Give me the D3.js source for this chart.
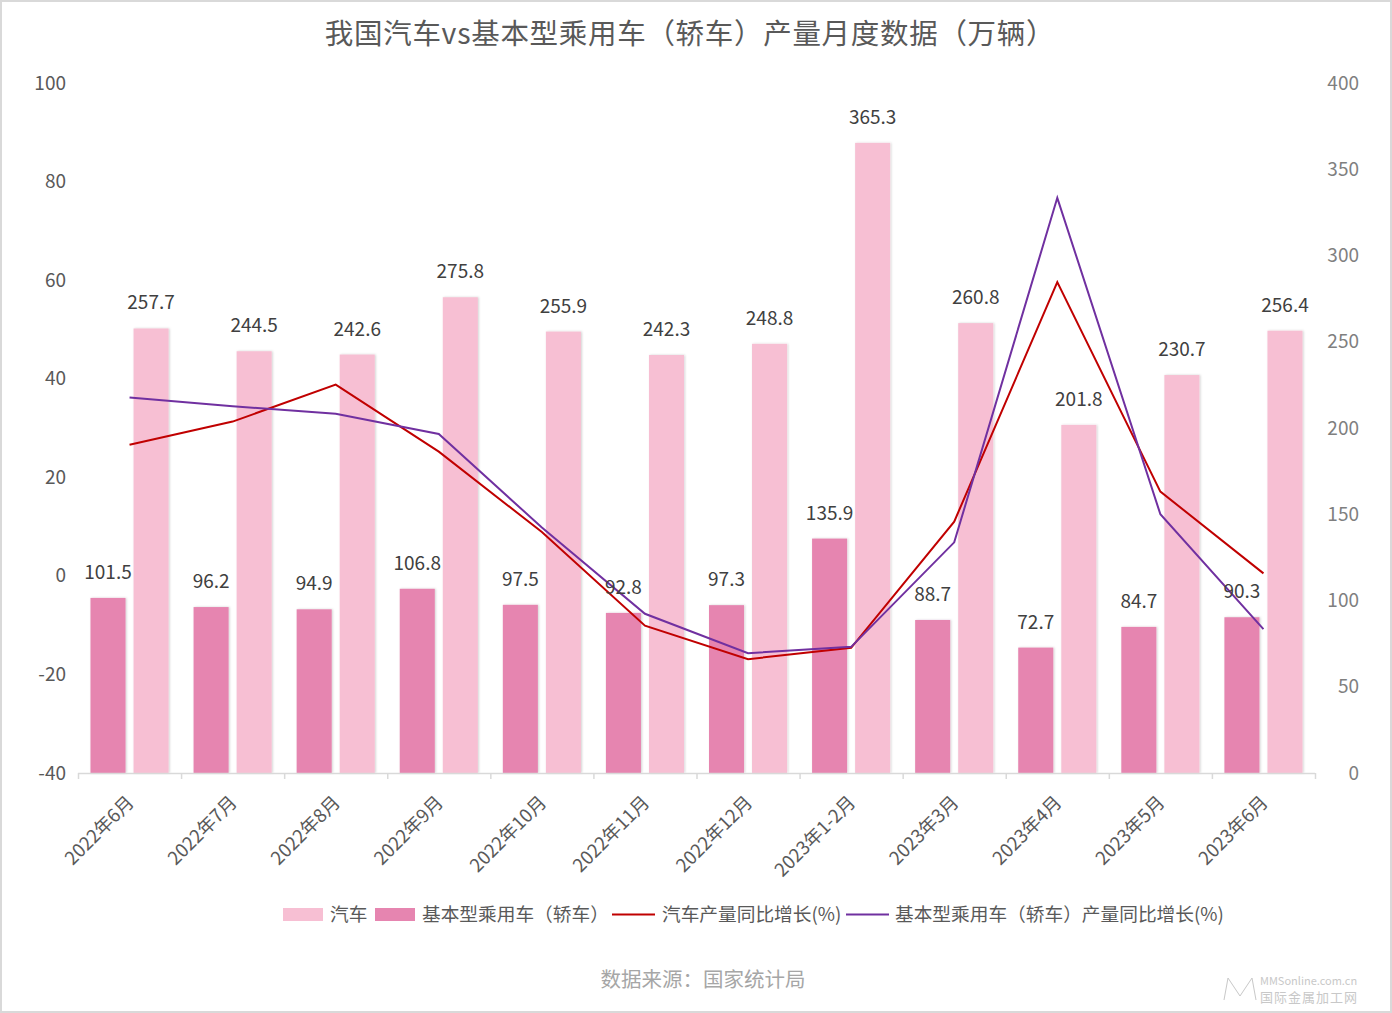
<!DOCTYPE html>
<html>
<head>
<meta charset="utf-8">
<script src="https://cdn.jsdelivr.net/npm/d3@7"></script>
<style>
  html, body { margin: 0; padding: 0; background: #fff; }
  svg { display: block; }
  text { font-family: "Noto Sans CJK SC", "Microsoft YaHei", sans-serif; }
</style>
</head>
<body>
<svg id="chart" width="1392" height="1013"></svg>
<script>
// ---- data ----
const categories = ["2022年6月","2022年7月","2022年8月","2022年9月","2022年10月","2022年11月","2022年12月","2023年1-2月","2023年3月","2023年4月","2023年5月","2023年6月"];
const autoOutput = [257.7, 244.5, 242.6, 275.8, 255.9, 242.3, 248.8, 365.3, 260.8, 201.8, 230.7, 256.4];
const sedanOutput = [101.5, 96.2, 94.9, 106.8, 97.5, 92.8, 97.3, 135.9, 88.7, 72.7, 84.7, 90.3];
const autoGrowth = [26.6, 31.3, 38.8, 25.2, 8.9, -10.1, -16.9, -14.6, 11.0, 59.6, 17.1, 0.5];
const sedanGrowth = [36.2, 34.4, 32.9, 28.8, 9.8, -7.7, -15.7, -14.4, 6.8, 76.7, 12.5, -10.8];
const leftTicks = [-40, -20, 0, 20, 40, 60, 80, 100];
const rightTicks = [0, 50, 100, 150, 200, 250, 300, 350, 400];
const seriesNames = ["汽车", "基本型乘用车（轿车）", "汽车产量同比增长(%)", "基本型乘用车（轿车）产量同比增长(%)"];
const titleText = "我国汽车vs基本型乘用车（轿车）产量月度数据（万辆）";
const sourceText = "数据来源：国家统计局";

// ---- styles ----
const C = { auto: "#f7bfd3", sedan: "#e685b0", red: "#c00000", purple: "#7030a0", axis: "#d9d9d9", txt: "#595959", lbl: "#404040" };

const svg = d3.select("#chart");
const W = 1392, H = 1013;
const plot = { left: 78, right: 1315, top: 83, bottom: 773 };

// border
svg.append("rect").attr("x", 1).attr("y", 1).attr("width", W - 2).attr("height", H - 2)
  .attr("fill", "#fff").attr("stroke", "#d9d9d9").attr("stroke-width", 2);

// filter for bar shadow
const defs = svg.append("defs");
const f = defs.append("filter").attr("id", "sh").attr("x", "-20%").attr("y", "-5%").attr("width", "140%").attr("height", "110%");
f.append("feDropShadow").attr("dx", 1).attr("dy", 0).attr("stdDeviation", 1.2).attr("flood-color", "#000").attr("flood-opacity", 0.18);

const x = d3.scaleBand().domain(categories).range([plot.left, plot.right]).paddingInner(0).paddingOuter(0);
const xs = d3.scaleBand().domain(["sedan", "auto"]).range([0, x.bandwidth()]).paddingInner(0.186).paddingOuter(0.29);
const yL = d3.scaleLinear().domain([-40, 100]).range([plot.bottom, plot.top]);
const yR = d3.scaleLinear().domain([0, 400]).range([plot.bottom, plot.top]);

// title
svg.append("text").attr("x", 690).attr("y", 44).attr("text-anchor", "middle")
  .attr("font-size", 28.5).attr("letter-spacing", 0.7).attr("fill", C.txt).text(titleText);

// left axis
const axL = svg.append("g").attr("transform", `translate(${plot.left - 12},0)`)
  .call(d3.axisLeft(yL).tickValues(leftTicks).tickSize(0).tickPadding(0).tickFormat(d => String(d)));
axL.select(".domain").remove();
axL.selectAll("text").attr("font-size", 19).attr("fill", C.txt).attr("font-family", "'Noto Sans CJK SC', sans-serif");

// right axis
const axR = svg.append("g").attr("transform", `translate(${plot.right + 44},0)`)
  .call(d3.axisLeft(yR).tickValues(rightTicks).tickSize(0).tickPadding(0).tickFormat(d => String(d)));
axR.select(".domain").remove();
axR.selectAll("text").attr("font-size", 19).attr("fill", "#7f7f7f").attr("font-family", "'Noto Sans CJK SC', sans-serif");

// bars
const groups = svg.append("g").selectAll("g").data(categories).join("g")
  .attr("transform", d => `translate(${x(d)},0)`);
groups.append("rect")
  .attr("x", xs("sedan")).attr("width", xs.bandwidth())
  .attr("y", (d, i) => yR(sedanOutput[i])).attr("height", (d, i) => yR(0) - yR(sedanOutput[i]))
  .attr("fill", C.sedan).attr("filter", "url(#sh)");
groups.append("rect")
  .attr("x", xs("auto")).attr("width", xs.bandwidth())
  .attr("y", (d, i) => yR(autoOutput[i])).attr("height", (d, i) => yR(0) - yR(autoOutput[i]))
  .attr("fill", C.auto).attr("filter", "url(#sh)");

// x axis line and ticks
const axB = svg.append("g");
axB.append("line").attr("x1", plot.left).attr("x2", plot.right).attr("y1", plot.bottom + 0.5).attr("y2", plot.bottom + 0.5)
  .attr("stroke", C.axis).attr("stroke-width", 1.5);
const bounds = categories.map(c => x(c)).concat([x(categories[categories.length - 1]) + x.bandwidth()]);
axB.selectAll("line.tk").data(bounds).join("line").attr("class", "tk")
  .attr("x1", d => d + 0.5).attr("x2", d => d + 0.5).attr("y1", plot.bottom).attr("y2", plot.bottom + 6)
  .attr("stroke", C.axis).attr("stroke-width", 1.5);
axB.selectAll("text").data(categories).join("text")
  .attr("transform", d => `translate(${x(d) + x.bandwidth() / 2 + 1},${plot.bottom + 26}) rotate(-45)`)
  .attr("text-anchor", "end").attr("dy", "0.35em")
  .attr("font-size", 18.5).attr("fill", C.txt).text(d => d);

// lines
const line = d3.line().x((d, i) => x(categories[i]) + x.bandwidth() / 2).y(d => yL(d));
svg.append("path").datum(autoGrowth).attr("d", line).attr("fill", "none").attr("stroke", C.red).attr("stroke-width", 2);
svg.append("path").datum(sedanGrowth).attr("d", line).attr("fill", "none").attr("stroke", C.purple).attr("stroke-width", 2);

// data labels
const lab = svg.append("g");
lab.selectAll("text.s").data(categories).join("text").attr("class", "s")
  .attr("x", d => x(d) + xs("sedan") + xs.bandwidth() / 2)
  .attr("y", (d, i) => yR(sedanOutput[i]) - 19)
  .attr("text-anchor", "middle").attr("font-size", 19).attr("fill", C.lbl)
  .text((d, i) => sedanOutput[i].toFixed(1));
lab.selectAll("text.a").data(categories).join("text").attr("class", "a")
  .attr("x", d => x(d) + xs("auto") + xs.bandwidth() / 2)
  .attr("y", (d, i) => yR(autoOutput[i]) - 19)
  .attr("text-anchor", "middle").attr("font-size", 19).attr("fill", C.lbl)
  .text((d, i) => autoOutput[i].toFixed(1));

// legend
const lg = svg.append("g").attr("font-size", 18.7).attr("fill", C.txt);
const ly = 914;
const items = [
  { type: "rect", color: C.auto, x: 283, tx: 330, name: seriesNames[0] },
  { type: "rect", color: C.sedan, x: 375, tx: 422, name: seriesNames[1] },
  { type: "line", color: C.red, x: 612, tx: 662, name: seriesNames[2] },
  { type: "line", color: C.purple, x: 846, tx: 895, name: seriesNames[3] }
];
items.forEach(it => {
  if (it.type === "rect") {
    lg.append("rect").attr("x", it.x).attr("y", ly - 6).attr("width", 40).attr("height", 13).attr("fill", it.color);
  } else {
    lg.append("line").attr("x1", it.x).attr("x2", it.x + 43).attr("y1", ly + 0.5).attr("y2", ly + 0.5)
      .attr("stroke", it.color).attr("stroke-width", 2);
  }
  lg.append("text").attr("x", it.tx).attr("y", ly).attr("dy", "0.35em").text(it.name);
});

// source
svg.append("text").attr("x", 703).attr("y", 980).attr("dy", "0.35em").attr("text-anchor", "middle")
  .attr("font-size", 20.5).attr("fill", "#a6a6a6").text(sourceText);

// watermark
const wm = svg.append("g").attr("fill", "none").attr("stroke", "#c8c8c8").attr("stroke-width", 1);
wm.append("path").attr("d", "M1224,1000 L1228,978 L1240,996 L1252,978 L1256,1000");
svg.append("text").attr("x", 1260).attr("y", 985).attr("font-size", 11).attr("fill", "#c8c8c8")
  .attr("font-family", "'Liberation Sans Narrow','DejaVu Sans Condensed',sans-serif").text("MMSonline.com.cn");
svg.append("text").attr("x", 1260).attr("y", 1002).attr("font-size", 13).attr("fill", "#c8c8c8")
  .attr("letter-spacing", 1).text("国际金属加工网");
</script>
</body>
</html>
